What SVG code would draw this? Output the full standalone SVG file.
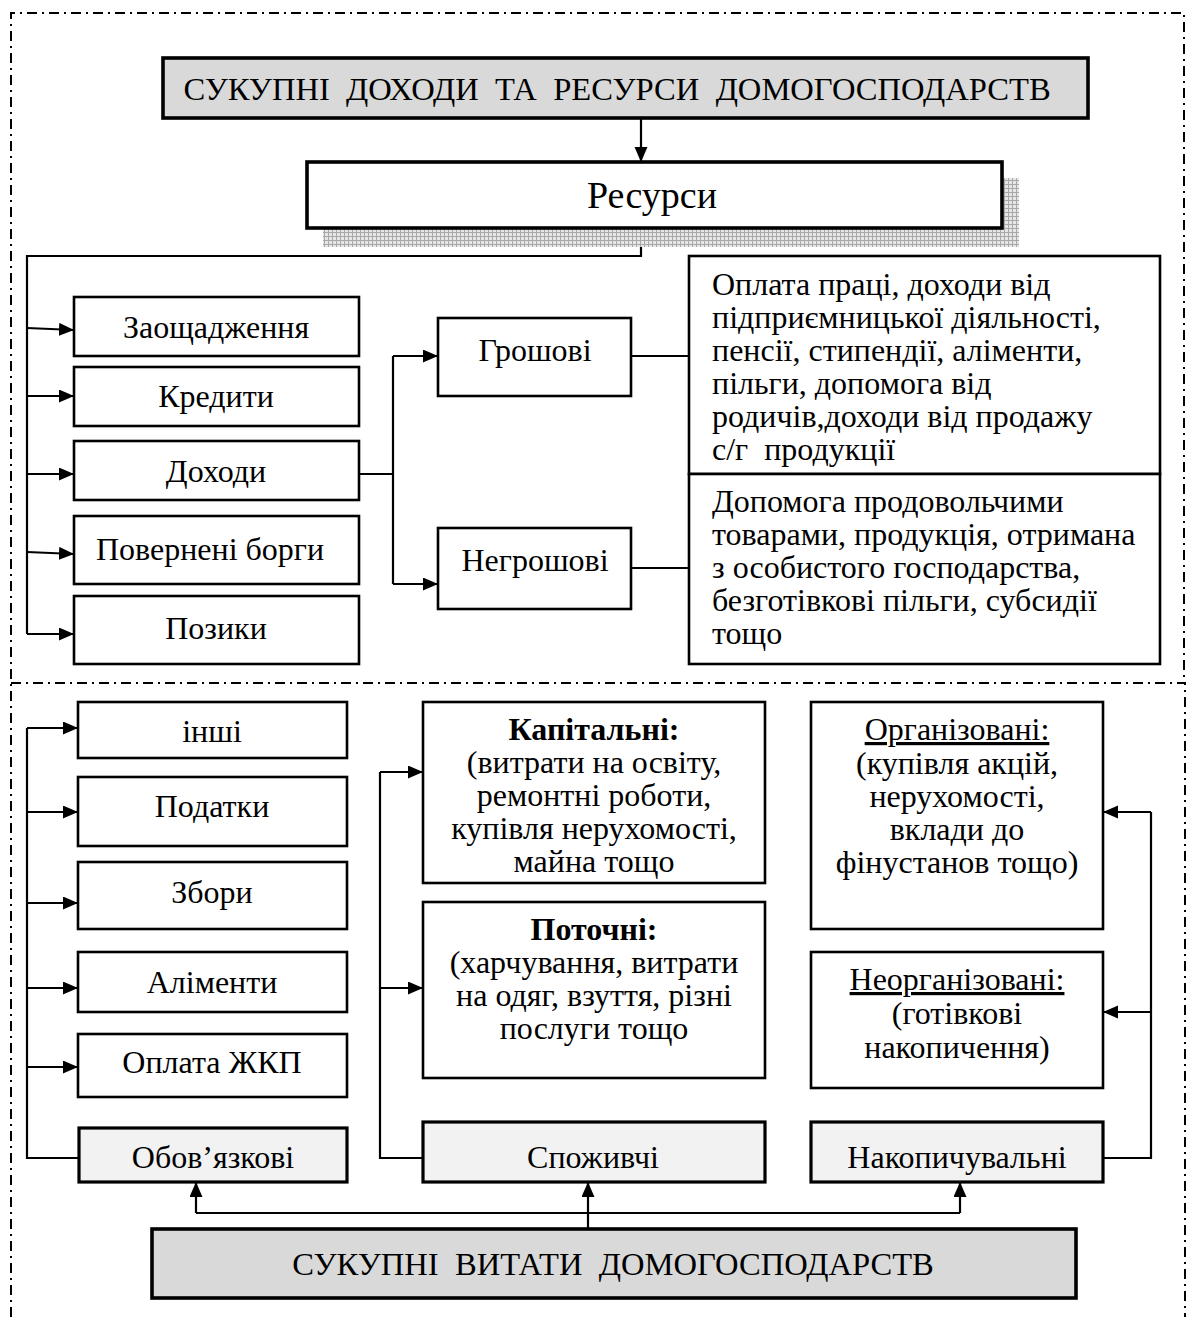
<svg xmlns="http://www.w3.org/2000/svg" width="1189" height="1317" viewBox="0 0 1189 1317">
<style>
text{font-family:"Liberation Serif","Times New Roman",serif;font-size:32px;fill:#000}
.c{text-anchor:middle}
.b{font-weight:bold}
.u{text-decoration:underline}
.box{fill:#fff;stroke:#000;stroke-width:2.6}
.thick{fill:#fff;stroke:#000;stroke-width:3.6}
.gray{fill:#d9d9d9;stroke:#000;stroke-width:3.6}
.lgray{fill:#f2f2f2;stroke:#000;stroke-width:3.2}
.ln{fill:none;stroke:#000;stroke-width:2.2}
.arr{fill:none;stroke:#000;stroke-width:2.2;marker-end:url(#ah)}
.border{fill:none;stroke:#000;stroke-width:2;stroke-dasharray:10 5 2 5}
.big{font-size:32.6px}
</style>
<defs>
<marker id="ah" markerUnits="userSpaceOnUse" markerWidth="16" markerHeight="14" refX="15" refY="6.5" orient="auto">
<path d="M0,0 L15,6.5 L0,13 z" fill="#000"/>
</marker>
<pattern id="hatch" width="4" height="4" patternUnits="userSpaceOnUse">
<rect width="4" height="4" fill="#e6e6e6"/>
<path d="M0,0.5 H4 M0.5,0 V4" stroke="#a8a8a8" stroke-width="1"/>
</pattern>
</defs>

<g id="frame">
<path class="border" d="M11,1317 V13 H1184 V683"/>
<path class="border" d="M11,683 H1185 V1317"/>
</g>

<g id="connectors">
<line class="arr" x1="641" y1="118" x2="641" y2="162"/>
<path class="ln" d="M641,228 V256 H27 V634"/>
<line class="arr" x1="27" y1="328" x2="74" y2="330"/>
<line class="arr" x1="27" y1="396" x2="74" y2="396"/>
<line class="arr" x1="27" y1="474" x2="74" y2="474"/>
<line class="arr" x1="27" y1="552" x2="74" y2="554"/>
<line class="arr" x1="27" y1="634" x2="74" y2="634"/>
<path class="ln" d="M359,474 H393 M393,356 V584"/>
<line class="arr" x1="393" y1="356" x2="438" y2="356"/>
<line class="arr" x1="393" y1="584" x2="438" y2="584"/>
<line class="ln" x1="631" y1="356" x2="689" y2="356"/>
<line class="ln" x1="631" y1="568" x2="689" y2="568"/>

<path class="ln" d="M78,1158 H27 V728"/>
<line class="arr" x1="27" y1="728" x2="78" y2="728"/>
<line class="arr" x1="27" y1="812" x2="78" y2="812"/>
<line class="arr" x1="27" y1="903" x2="78" y2="903"/>
<line class="arr" x1="27" y1="988" x2="78" y2="988"/>
<line class="arr" x1="27" y1="1067" x2="78" y2="1067"/>

<path class="ln" d="M423,1158 H380 V772"/>
<line class="arr" x1="380" y1="772" x2="423" y2="772"/>
<line class="arr" x1="380" y1="988" x2="423" y2="988"/>

<path class="ln" d="M1103,1158 H1151 V812"/>
<line class="arr" x1="1151" y1="812" x2="1103" y2="812"/>
<line class="arr" x1="1151" y1="1012" x2="1103" y2="1012"/>

<line class="arr" x1="588" y1="1229" x2="588" y2="1182"/>
<path class="ln" d="M196,1213 H960"/>
<line class="arr" x1="196" y1="1213" x2="196" y2="1182"/>
<line class="arr" x1="960" y1="1213" x2="960" y2="1182"/>
</g>

<g id="n-top">
<rect class="gray" x="163" y="58" width="925" height="60"/>
<text class="c big" x="617" y="100" xml:space="preserve">СУКУПНІ  ДОХОДИ  ТА  РЕСУРСИ  ДОМОГОСПОДАРСТВ</text>
</g>

<g id="n-resursy">
<rect x="323" y="178" width="696" height="69" fill="url(#hatch)"/>
<rect class="thick" x="307" y="162" width="695" height="66"/>
<text class="c" x="652" y="208" style="font-size:38px">Ресурси</text>
</g>

<g id="n-zaoshch"><rect class="box" x="74" y="297" width="285" height="59"/><text class="c" x="216" y="338">Заощадження</text></g>
<g id="n-kredyty"><rect class="box" x="74" y="367" width="285" height="59"/><text class="c" x="216" y="407">Кредити</text></g>
<g id="n-dokhody"><rect class="box" x="74" y="441" width="285" height="59"/><text class="c" x="216" y="482">Доходи</text></g>
<g id="n-borhy"><rect class="box" x="74" y="516" width="285" height="68"/><text class="c" x="210" y="560">Повернені борги</text></g>
<g id="n-pozyky"><rect class="box" x="74" y="596" width="285" height="68"/><text class="c" x="216" y="639">Позики</text></g>

<g id="n-hroshovi"><rect class="box" x="438" y="318" width="193" height="78"/><text class="c" x="535" y="361">Грошові</text></g>
<g id="n-nehroshovi"><rect class="box" x="438" y="528" width="193" height="81"/><text class="c" x="535" y="571">Негрошові</text></g>

<g id="n-money-list">
<rect class="box" x="689" y="256" width="471" height="218"/>
<text x="712" y="295">Оплата праці, доходи від</text>
<text x="712" y="328">підприємницької діяльності,</text>
<text x="712" y="361">пенсії, стипендії, аліменти,</text>
<text x="712" y="394">пільги, допомога від</text>
<text x="712" y="427">родичів,доходи від продажу</text>
<text x="712" y="460">с/г&#160; продукції</text>
</g>
<g id="n-nonmoney-list">
<rect class="box" x="689" y="474" width="471" height="190"/>
<text x="712" y="512">Допомога продовольчими</text>
<text x="712" y="545">товарами, продукція, отримана</text>
<text x="712" y="578">з особистого господарства,</text>
<text x="712" y="611">безготівкові пільги, субсидії</text>
<text x="712" y="644">тощо</text>
</g>

<g id="n-inshi"><rect class="box" x="78" y="702" width="269" height="56"/><text class="c" x="212" y="742">інші</text></g>
<g id="n-podatky"><rect class="box" x="78" y="777" width="269" height="69"/><text class="c" x="212" y="817">Податки</text></g>
<g id="n-zbory"><rect class="box" x="78" y="862" width="269" height="67"/><text class="c" x="212" y="903">Збори</text></g>
<g id="n-alimenty"><rect class="box" x="78" y="952" width="269" height="60"/><text class="c" x="212" y="993">Аліменти</text></g>
<g id="n-zhkp"><rect class="box" x="78" y="1034" width="269" height="63"/><text class="c" x="212" y="1073">Оплата ЖКП</text></g>
<g id="n-oboviazkovi"><rect class="lgray" x="79" y="1128" width="268" height="54"/><text class="c" x="213" y="1168">Обов’язкові</text></g>

<g id="n-kapitalni">
<rect class="box" x="423" y="702" width="342" height="181"/>
<text class="c b" x="594" y="740">Капітальні:</text>
<text class="c" x="594" y="773">(витрати на освіту,</text>
<text class="c" x="594" y="806">ремонтні роботи,</text>
<text class="c" x="594" y="839">купівля нерухомості,</text>
<text class="c" x="594" y="872">майна тощо</text>
</g>
<g id="n-potochni">
<rect class="box" x="423" y="902" width="342" height="176"/>
<text class="c b" x="594" y="940">Поточні:</text>
<text class="c" x="594" y="973">(харчування, витрати</text>
<text class="c" x="594" y="1006">на одяг, взуття, різні</text>
<text class="c" x="594" y="1039">послуги тощо</text>
</g>
<g id="n-spozhyvchi"><rect class="lgray" x="423" y="1122" width="342" height="60"/><text class="c" x="593" y="1168">Споживчі</text></g>

<g id="n-orhanizovani">
<rect class="box" x="811" y="702" width="292" height="227"/>
<text class="c u" x="957" y="740">Організовані:</text>
<text class="c" x="957" y="774">(купівля акцій,</text>
<text class="c" x="957" y="807">нерухомості,</text>
<text class="c" x="957" y="840">вклади до</text>
<text class="c" x="957" y="873">фінустанов тощо)</text>
</g>
<g id="n-neorhanizovani">
<rect class="box" x="811" y="952" width="292" height="136"/>
<text class="c u" x="957" y="990">Неорганізовані:</text>
<text class="c" x="957" y="1024">(готівкові</text>
<text class="c" x="957" y="1058">накопичення)</text>
</g>
<g id="n-nakopychuvalni"><rect class="lgray" x="811" y="1122" width="292" height="60"/><text class="c" x="957" y="1168">Накопичувальні</text></g>

<g id="n-bottom">
<rect class="gray" x="152" y="1229" width="924" height="69"/>
<text class="c big" x="613" y="1275" xml:space="preserve">СУКУПНІ  ВИТАТИ  ДОМОГОСПОДАРСТВ</text>
</g>
</svg>
